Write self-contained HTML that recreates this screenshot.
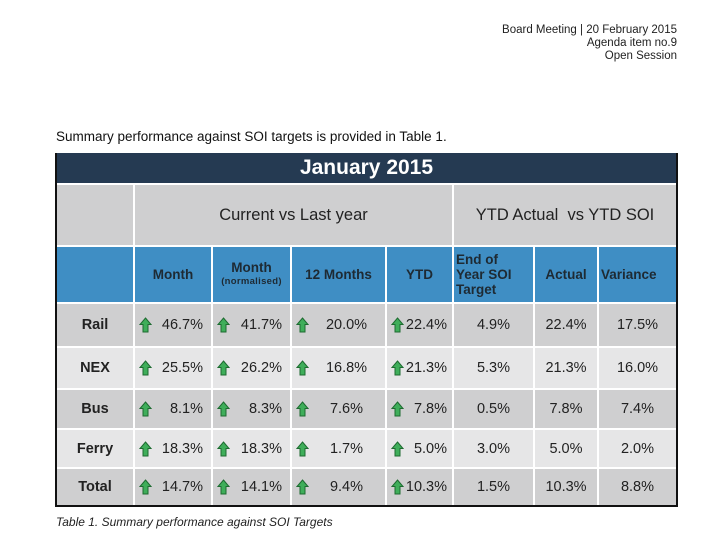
<!DOCTYPE html>
<html><head><meta charset="utf-8"><style>
body{margin:0;width:720px;height:543px;background:#fff;font-family:"Liberation Sans",Arial,sans-serif;position:relative;overflow:hidden}
.a{position:absolute}
.c{position:absolute;display:flex;align-items:center;justify-content:center;text-align:center;box-sizing:border-box}
.g{background:#cfcfd0}.l{background:#e6e6e7}.b{background:#3f8ec4;font-weight:bold;color:#1e2a33;font-size:13.5px}
.d{font-size:14.5px;color:#222}
.ar{position:absolute;left:4px;top:50%;margin-top:-8px}
</style></head><body>
<div class="a" style="right:43px;top:24px;text-align:right;font-size:11.5px;line-height:13px;color:#222">Board Meeting | 20 February 2015<br>Agenda item no.9<br>Open Session</div>
<div class="a" style="left:56px;top:129px;font-size:13.5px;color:#111">Summary performance against SOI targets is provided in Table 1.</div>
<div class="a" style="left:55px;top:153px;width:623px;height:354px;background:#111"></div>
<div class="a" style="left:57px;top:183px;width:619px;height:322px;background:#fff"></div>
<div class="c" style="left:57px;top:153px;width:619px;height:30px;background:#253a52;color:#fff;font-weight:bold;font-size:21px">January 2015</div>
<div class="c g" style="left:57px;top:185px;width:76px;height:60px"></div>
<div class="c g" style="left:135px;top:185px;width:317px;height:60px;font-size:16.5px;color:#222">Current vs Last year</div>
<div class="c g" style="left:454px;top:185px;width:222px;height:60px;font-size:16.5px;color:#222">YTD Actual&nbsp; vs YTD SOI</div>
<div class="c b" style="left:57px;top:247px;width:76px;height:55px"></div>
<div class="c b" style="left:135px;top:247px;width:76px;height:55px">Month</div>
<div class="c b" style="left:213px;top:247px;width:77px;height:55px;flex-direction:column;line-height:14px">Month<span style="font-size:9.5px;letter-spacing:0.3px">(normalised)</span></div>
<div class="c b" style="left:292px;top:247px;width:93px;height:55px">12 Months</div>
<div class="c b" style="left:387px;top:247px;width:65px;height:55px">YTD</div>
<div class="c b" style="left:454px;top:247px;width:79px;height:55px;justify-content:flex-start;text-align:left;padding-left:2px;line-height:15px">End of<br>Year SOI<br>Target</div>
<div class="c b" style="left:535px;top:247px;width:62px;height:55px">Actual</div>
<div class="c b" style="left:599px;top:247px;width:77px;height:55px;justify-content:flex-start;padding-left:2px">Variance</div>
<div id="rows"></div>
<div class="a" style="left:56px;top:515px;font-size:12px;font-style:italic;color:#222">Table 1. Summary performance against SOI Targets</div>
<script>
var rows=[["Rail",304,42,"g",["46.7%","41.7%","20.0%","22.4%","4.9%","22.4%","17.5%"]],
["NEX",348,40,"l",["25.5%","26.2%","16.8%","21.3%","5.3%","21.3%","16.0%"]],
["Bus",390,38,"g",["8.1%","8.3%","7.6%","7.8%","0.5%","7.8%","7.4%"]],
["Ferry",430,37,"l",["18.3%","18.3%","1.7%","5.0%","3.0%","5.0%","2.0%"]],
["Total",469,36,"g",["14.7%","14.1%","9.4%","10.3%","1.5%","10.3%","8.8%"]]];
var cols=[[57,76],[135,76],[213,77],[292,93],[387,65],[454,79],[535,62],[599,77]];
var arrow='<svg class="ar" width="13" height="16" viewBox="0 0 13 16"><path d="M6.5 1 L12 7.5 L9 7.5 L9 15 L4 15 L4 7.5 L1 7.5 Z" fill="#3fae5a" stroke="#1d6b30" stroke-width="1"/></svg>';
var h="";
rows.forEach(function(r){
 h+='<div class="c d '+r[3]+'" style="left:57px;top:'+r[1]+'px;width:76px;height:'+r[2]+'px;font-weight:bold">'+r[0]+'</div>';
 r[4].forEach(function(v,i){var c=cols[i+1];var st='left:'+c[0]+'px;top:'+r[1]+'px;width:'+c[1]+'px;height:'+r[2]+'px;';
  if(i<4){var pad=i==3?'justify-content:flex-end;padding-right:5px':(i==2?'padding-left:16px':'justify-content:flex-end;padding-right:8px');
   h+='<div class="c d '+r[3]+'" style="'+st+pad+'">'+arrow+v+'</div>';}
  else h+='<div class="c d '+r[3]+'" style="'+st+'">'+v+'</div>';});
});
document.getElementById("rows").innerHTML=h;
</script>
</body></html>
